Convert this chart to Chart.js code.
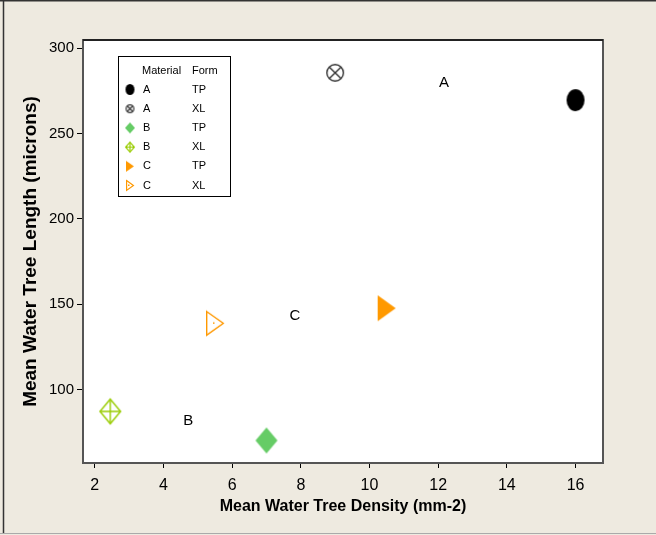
<!DOCTYPE html>
<html>
<head>
<meta charset="utf-8">
<script src="https://cdn.jsdelivr.net/npm/chart.js@4"></script>
<style>
  html, body { margin: 0; padding: 0; background: #EEEAE0; }
  canvas { display: block; }
</style>
</head>
<body>
<canvas id="c" width="656" height="535"></canvas>
<script>
// ---- data ----
const materials = ['A', 'A', 'B', 'B', 'C', 'C'];
const forms = ['TP', 'XL', 'TP', 'XL', 'TP', 'XL'];
const densities = [16.0, 9.0, 7.0, 2.45, 10.5, 5.5];      // Mean Water Tree Density (mm-2)
const lengths = [269.5, 285.5, 70.3, 87.3, 147.7, 138.9]; // Mean Water Tree Length (microns)
const groupLabels = ['A', 'B', 'C'];
const groupLabelX = [12.17, 4.72, 7.83];
const groupLabelY = [279.5, 82, 143];
const xTicks = [2, 4, 6, 8, 10, 12, 14, 16];
const yTicks = [100, 150, 200, 250, 300];

// ---- marker styles ----
const markerKinds = ['ellipseFill', 'circleX', 'diamondFill', 'diamondPlus', 'triFill', 'triOpen'];
const markerColors = ['#000000', '#333333', '#66CC66', '#99CC00', '#FF9900', '#FF9900'];

function makeMarker(kind, color, w, h, lw) {
  const pad = 2;
  const c = document.createElement('canvas');
  c.width = w + pad * 2; c.height = h + pad * 2;
  const g = c.getContext('2d');
  const cx = c.width / 2, cy = c.height / 2;
  g.fillStyle = color; g.strokeStyle = color; g.lineWidth = lw;
  g.beginPath();
  if (kind === 'ellipseFill') {
    g.ellipse(cx, cy, w / 2, h / 2, 0, 0, Math.PI * 2); g.fill();
  } else if (kind === 'circleX') {
    const r = Math.min(w, h) / 2 - lw / 2;
    g.arc(cx, cy, r, 0, Math.PI * 2); g.stroke();
    const d = r * Math.SQRT1_2;
    g.beginPath();
    g.moveTo(cx - d, cy - d); g.lineTo(cx + d, cy + d);
    g.moveTo(cx + d, cy - d); g.lineTo(cx - d, cy + d);
    g.stroke();
  } else if (kind === 'diamondFill') {
    g.moveTo(cx, cy - h / 2); g.lineTo(cx + w / 2, cy); g.lineTo(cx, cy + h / 2); g.lineTo(cx - w / 2, cy);
    g.closePath(); g.fill();
  } else if (kind === 'diamondPlus') {
    const hw = w / 2 - lw / 2, hh = h / 2 - lw / 2;
    g.moveTo(cx, cy - hh); g.lineTo(cx + hw, cy); g.lineTo(cx, cy + hh); g.lineTo(cx - hw, cy);
    g.closePath(); g.stroke();
    g.beginPath();
    g.moveTo(cx, cy - hh); g.lineTo(cx, cy + hh);
    g.moveTo(cx - hw, cy); g.lineTo(cx + hw, cy);
    g.stroke();
  } else if (kind === 'triFill') {
    g.moveTo(cx - w / 2, cy - h / 2); g.lineTo(cx + w / 2, cy); g.lineTo(cx - w / 2, cy + h / 2);
    g.closePath(); g.fill();
  } else if (kind === 'triOpen') {
    const hw = w / 2 - lw / 2, hh = h / 2 - lw / 2;
    g.moveTo(cx - hw, cy - hh); g.lineTo(cx + hw, cy); g.lineTo(cx - hw, cy + hh);
    g.closePath(); g.stroke();
    g.fillRect(cx - 2, cy - 1, 1.5, 1.5);
  }
  return c;
}

const bigSizes = [[18, 22], [18, 18], [22, 26], [22, 26], [18, 26], [18, 25]];
const smallSizes = [[9, 11], [9, 9], [10, 11], [10, 11], [8, 11], [8, 11]];
const bigMarkers = markerKinds.map((k, i) => makeMarker(k, markerColors[i], bigSizes[i][0], bigSizes[i][1], 1.4));
const smallMarkers = markerKinds.map((k, i) => makeMarker(k, markerColors[i], smallSizes[i][0], smallSizes[i][1], 1.2));

const datasets = materials.map((m, i) => ({
  label: m + ' ' + forms[i],
  data: [{ x: densities[i], y: lengths[i] }],
  pointStyle: bigMarkers[i],
  backgroundColor: markerColors[i],
  borderColor: markerColors[i]
}));

const FONT = '"Liberation Sans", Arial, sans-serif';

const decor = {
  id: 'decor',
  beforeDraw(chart) {
    const { ctx, chartArea: a, width, height } = chart;
    ctx.save();
    ctx.fillStyle = '#EEEAE0';
    ctx.fillRect(0, 0, width, height);
    ctx.fillStyle = '#FFFFFF';
    ctx.fillRect(a.left, a.top, a.right - a.left, a.bottom - a.top);
    // page frame
    ctx.strokeStyle = '#333';
    ctx.lineWidth = 1.5;
    ctx.beginPath();
    ctx.moveTo(0, 0.75); ctx.lineTo(width, 0.75);
    ctx.moveTo(3.5, 0); ctx.lineTo(3.5, height - 2);
    ctx.stroke();
    ctx.strokeStyle = '#AAA';
    ctx.lineWidth = 1;
    ctx.beginPath();
    ctx.moveTo(0, height - 1.5); ctx.lineTo(width, height - 1.5);
    ctx.stroke();
    ctx.restore();
  },
  afterDraw(chart) {
    const { ctx, chartArea: a, scales } = chart;
    ctx.save();
    // plot frame
    ctx.strokeStyle = '#555';
    ctx.lineWidth = 2;
    ctx.strokeRect(a.left, a.top, a.right - a.left, a.bottom - a.top);
    ctx.strokeStyle = '#222';
    ctx.beginPath(); ctx.moveTo(a.left, a.top); ctx.lineTo(a.right, a.top); ctx.stroke();
    // group annotations
    ctx.fillStyle = '#000';
    ctx.font = '15px ' + FONT;
    ctx.textAlign = 'center';
    ctx.textBaseline = 'middle';
    groupLabels.forEach((t, i) => {
      ctx.fillText(t, scales.x.getPixelForValue(groupLabelX[i]), scales.y.getPixelForValue(groupLabelY[i]));
    });
    // legend
    const lx = 118.5, ly = 56.5, lw = 112, lh = 140;
    ctx.fillStyle = '#fff';
    ctx.fillRect(lx, ly, lw, lh);
    ctx.strokeStyle = '#000';
    ctx.lineWidth = 1;
    ctx.strokeRect(lx, ly, lw, lh);
    ctx.fillStyle = '#000';
    ctx.font = '11px ' + FONT;
    ctx.textAlign = 'left';
    ctx.fillText('Material', 142, 70.5);
    ctx.fillText('Form', 192, 70.5);
    materials.forEach((m, i) => {
      const y = 89.5 + i * 19.2;
      const mk = smallMarkers[i];
      ctx.drawImage(mk, 130 - mk.width / 2, y - mk.height / 2);
      ctx.fillText(m, 143, y);
      ctx.fillText(forms[i], 192, y);
    });
    ctx.restore();
  }
};

new Chart(document.getElementById('c'), {
  type: 'scatter',
  data: { datasets },
  plugins: [decor],
  options: {
    responsive: false,
    animation: false,
    layout: { padding: { top: 40, right: 53, left: 0, bottom: 0 } },
    plugins: { legend: { display: false }, tooltip: { enabled: false } },
    elements: { point: { radius: 10, hoverRadius: 10 } },
    scales: {
      x: {
        type: 'linear', min: 1.656, max: 16.8,
        afterBuildTicks: s => { s.ticks = xTicks.map(v => ({ value: v })); },
        afterFit: s => { s.height = 72; },
        grid: { drawOnChartArea: false, drawTicks: true, tickLength: 5, tickColor: '#000', lineWidth: 1 },
        border: { display: false },
        ticks: { color: '#000', font: { size: 16, family: FONT }, padding: 8, maxRotation: 0 },
        title: { display: true, text: 'Mean Water Tree Density (mm-2)', color: '#000',
                 font: { size: 16, weight: 'bold', family: FONT }, padding: { top: 0, bottom: 18.5 } }
      },
      y: {
        type: 'linear', min: 57.1, max: 304.7,
        afterBuildTicks: s => { s.ticks = yTicks.map(v => ({ value: v })); },
        afterFit: s => { s.width = 83; },
        grid: { drawOnChartArea: false, drawTicks: true, tickLength: 6, tickColor: '#000', lineWidth: 1 },
        border: { display: false },
        ticks: { color: '#000', font: { size: 15, family: FONT }, padding: 3 },
        title: { display: true, text: 'Mean Water Tree Length (microns)', color: '#000',
                 font: { size: 19, weight: 'bold', family: FONT }, padding: { top: 19.6, bottom: 0 } }
      }
    }
  }
});
</script>
</body>
</html>
